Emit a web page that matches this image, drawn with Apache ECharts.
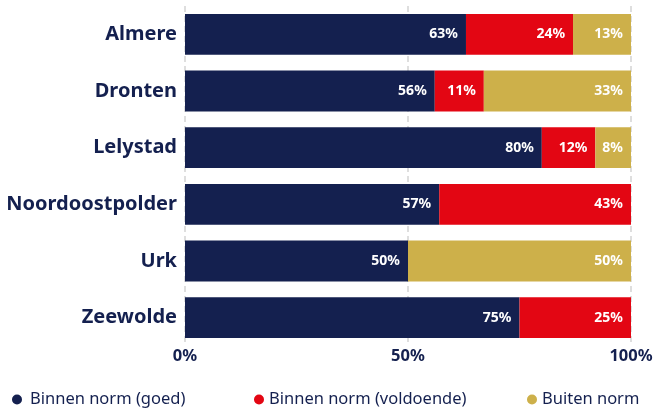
<!DOCTYPE html>
<html>
<head>
<meta charset="utf-8">
<script src="https://cdn.jsdelivr.net/npm/echarts@6/dist/echarts.min.js"></script>
<style>
  html, body { margin: 0; padding: 0; background: #fff; }
  #chart { width: 654px; height: 410px; }
</style>
</head>
<body>
<div id="chart"></div>
<script>
const categories = ['Almere', 'Dronten', 'Lelystad', 'Noordoostpolder', 'Urk', 'Zeewolde']
const seriesNames = ['Binnen norm (goed)', 'Binnen norm (voldoende)', 'Buiten norm']
const goed = [63, 56, 80, 57, 50, 75]
const voldoende = [24, 11, 12, 43, 0, 25]
const buiten = [13, 33, 8, 0, 50, 0]
const xTicks = [0, 50, 100]

const colors = ['#14204f', '#e30613', '#cdb04a']
const navy = '#14204f'
const font = 'Noto Sans'

const chart = echarts.init(document.getElementById('chart'))

const series = [goed, voldoende, buiten].map((data, i) => ({
  name: seriesNames[i],
  type: 'bar',
  stack: 'total',
  data,
  barCategoryGap: '28%',
  itemStyle: { color: colors[i] },
  label: {
    show: true,
    position: 'insideRight',
    color: '#fff',
    fontFamily: font,
    fontWeight: 'bold',
    fontSize: 14,
    distance: 8,
    formatter: p => (p.value > 0 ? p.value + '%' : ''),
  },
}))

// legenda per item los positioneren
const legendLeft = [7, 249, 522]
const legend = seriesNames.map((name, i) => ({
  data: [name],
  left: legendLeft[i],
  top: 386,
  icon: 'circle',
  itemWidth: 10,
  itemHeight: 10,
  textStyle: {
    color: navy,
    fontFamily: font,
    fontSize: 16.5,
    padding: [0, 0, 0, i === 0 ? 3 : 0],
  },
  selectedMode: false,
}))

chart.setOption({
  animation: false,
  legend,
  grid: { left: 185, right: 23, top: 6, bottom: 64, outerBoundsMode: 'none' },
  xAxis: {
    type: 'value',
    min: 0,
    max: 100,
    interval: 50,
    axisLine: { show: false },
    axisTick: { show: false },
    splitLine: { lineStyle: { color: '#d4d4d4', width: 1.5, type: [6, 4] } },
    axisLabel: {
      color: navy,
      fontFamily: font,
      fontWeight: 'bold',
      fontSize: 16.5,
      margin: 2,
      formatter: v => (xTicks.includes(v) ? v + '%' : ''),
    },
  },
  yAxis: {
    type: 'category',
    data: categories,
    inverse: true,
    axisLine: { show: false },
    axisTick: { show: false },
    axisLabel: {
      color: navy,
      fontFamily: font,
      fontWeight: 'bold',
      fontSize: 20,
      margin: 8,
      padding: [11, 0, 0, 0],
    },
  },
  series,
})
</script>
</body>
</html>
